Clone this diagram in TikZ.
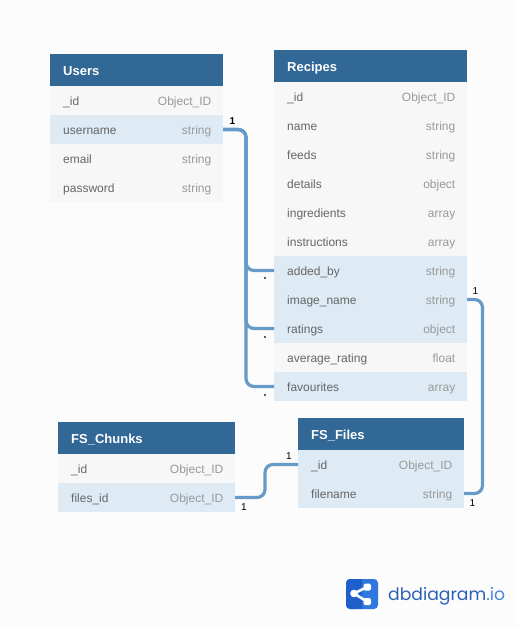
\documentclass[tikz,border=0pt]{standalone}
\usepackage{fontspec}
\setmainfont{Liberation Sans}
\newfontfamily\logofont{Poppins}
\definecolor{bgc}{HTML}{FCFCFD}
\definecolor{headc}{HTML}{316896}
\definecolor{rowc}{HTML}{F7F7F7}
\definecolor{hic}{HTML}{DEEBF4}
\definecolor{labelc}{HTML}{666666}
\definecolor{typec}{HTML}{999999}
\definecolor{relc}{HTML}{659BC6}
\definecolor{logoa}{HTML}{1F5FCB}
\definecolor{logob}{HTML}{2F76DE}
\definecolor{logot}{HTML}{2C62B5}
\definecolor{logoi}{HTML}{4A86D8}
\tikzset{
  cellbase/.style={rectangle,draw=none,inner sep=0pt,outer sep=0pt,anchor=north west},
  headcell/.style={cellbase,fill=headc,minimum height=32pt},
  plainrow/.style={cellbase,fill=rowc,minimum height=29pt},
  hirow/.style={cellbase,fill=hic,minimum height=29pt},
  headtext/.style={inner sep=0pt,anchor=base west,text=white,font=\bfseries\fontsize{13}{15}\selectfont},
  labeltext/.style={inner sep=0pt,anchor=base west,text=labelc,font=\fontsize{12}{14}\selectfont},
  typetext/.style={inner sep=0pt,anchor=base east,text=typec,font=\fontsize{12}{14}\selectfont},
  rel/.style={draw=relc,line width=3.2pt,rounded corners=8pt},
  cardtext/.style={inner sep=0pt,anchor=base,text=black,font=\fontsize{10}{12}\selectfont},
  cardbold/.style={cardtext,font=\bfseries\fontsize{10}{12}\selectfont},
  cardstar/.style={cardtext,font=\bfseries\fontsize{6}{8}\selectfont},
}
\newcommand{\dbhead}[5]{% id, x, y, w, title
  \node[headcell,minimum width=#4pt] (#1) at (#2,#3) {};
  \node[headtext] (#1-t) at ([xshift=13pt,yshift=-5.5pt]#1.west) {#5};
}
\newcommand{\dbrow}[7]{% id, x, y, w, label, type, style
  \node[#7,minimum width=#4pt] (#1) at (#2,#3) {};
  \node[labeltext] (#1-l) at ([xshift=13pt,yshift=-5pt]#1.west) {#5};
  \node[typetext] (#1-r) at ([xshift=-11.5pt,yshift=-5pt]#1.east) {#6};
}
\begin{document}
\begin{tikzpicture}[x=1pt,y=-1pt]
\useasboundingbox (0,0) rectangle (517,627);
\fill[bgc] (0,0) rectangle (517,627);
% Users
\dbhead{users}{50}{54}{173}{Users}
\dbrow{uid}{50}{86}{173}{\_id}{Object\_ID}{plainrow}
\dbrow{uname}{50}{115}{173}{username}{string}{hirow}
\dbrow{uemail}{50}{144}{173}{email}{string}{plainrow}
\dbrow{upass}{50}{173}{173}{password}{string}{plainrow}
% Recipes
\dbhead{recipes}{274}{50}{193}{Recipes}
\dbrow{rid}{274}{82}{193}{\_id}{Object\_ID}{plainrow}
\dbrow{rname}{274}{111}{193}{name}{string}{plainrow}
\dbrow{rfeeds}{274}{140}{193}{feeds}{string}{plainrow}
\dbrow{rdetails}{274}{169}{193}{details}{object}{plainrow}
\dbrow{ring}{274}{198}{193}{ingredients}{array}{plainrow}
\dbrow{rinst}{274}{227}{193}{instructions}{array}{plainrow}
\dbrow{radded}{274}{256}{193}{added\_by}{string}{hirow}
\dbrow{rimage}{274}{285}{193}{image\_name}{string}{hirow}
\dbrow{rratings}{274}{314}{193}{ratings}{object}{hirow}
\dbrow{ravg}{274}{343}{193}{average\_rating}{float}{plainrow}
\dbrow{rfav}{274}{372}{193}{favourites}{array}{hirow}
% FS_Chunks
\dbhead{chunks}{58}{422}{177}{FS\_Chunks}
\dbrow{cid}{58}{454}{177}{\_id}{Object\_ID}{plainrow}
\dbrow{cfiles}{58}{483}{177}{files\_id}{Object\_ID}{hirow}
% FS_Files
\dbhead{files}{298}{418}{166}{FS\_Files}
\dbrow{fid}{298}{450}{166}{\_id}{Object\_ID}{hirow}
\dbrow{fname}{298}{479}{166}{filename}{string}{hirow}
% Routing columns
\coordinate (busL) at (246,0);
\coordinate (busR) at (482.5,0);
\coordinate (busC) at (265,0);
% Relations
\draw[rel] (uname.east) -- (busL |- uname.east) -- (busL |- radded.west) -- (radded.west);
\draw[rel] (uname.east) -- (busL |- uname.east) -- (busL |- rratings.west) -- (rratings.west);
\draw[rel] (uname.east) -- (busL |- uname.east) -- (busL |- rfav.west) -- (rfav.west);
\draw[rel] (rimage.east) -- (busR |- rimage.east) -- (busR |- fname.east) -- (fname.east);
\draw[rel] (cfiles.east) -- (busC |- cfiles.east) -- (busC |- fid.west) -- (fid.west);
% Cardinalities
\node[cardbold] (c1) at (232.5,124) {1};
\node[cardstar] (c2) at (265,281) {*};
\node[cardstar] (c3) at (265,340) {*};
\node[cardstar] (c4) at (265,398) {*};
\node[cardtext] (c5) at (475.5,294) {1};
\node[cardtext] (c6) at (472.5,506) {1};
\node[cardtext] (c7) at (289,459.5) {1};
\node[cardtext] (c8) at (244,510) {1};
% Logo
\fill[logob,rounded corners=4pt] (346,579) rectangle (378,609);
\fill[logoa,rounded corners=4pt] (346,579) -- (362,579) -- (362,609) -- (346,609) -- cycle;
\fill[logoa] (358,579) rectangle (362,609);
\draw[white,line width=2.6pt] (354,593.5) -- (367,587) (354,593.5) -- (367,601.5);
\fill[white] (354,593.5) circle (3.8pt);
\fill[white,rounded corners=1.5pt] (363.5,583.5) rectangle (371,590.5);
\fill[white,rounded corners=1.5pt] (363.5,598) rectangle (371,605);
\node[inner sep=0pt,anchor=base west,font=\logofont\fontsize{17.2}{20}\selectfont,text=logot] (logo) at (388,600) {dbdiagram\textcolor{logoi}{.io}};
\end{tikzpicture}
\end{document}
